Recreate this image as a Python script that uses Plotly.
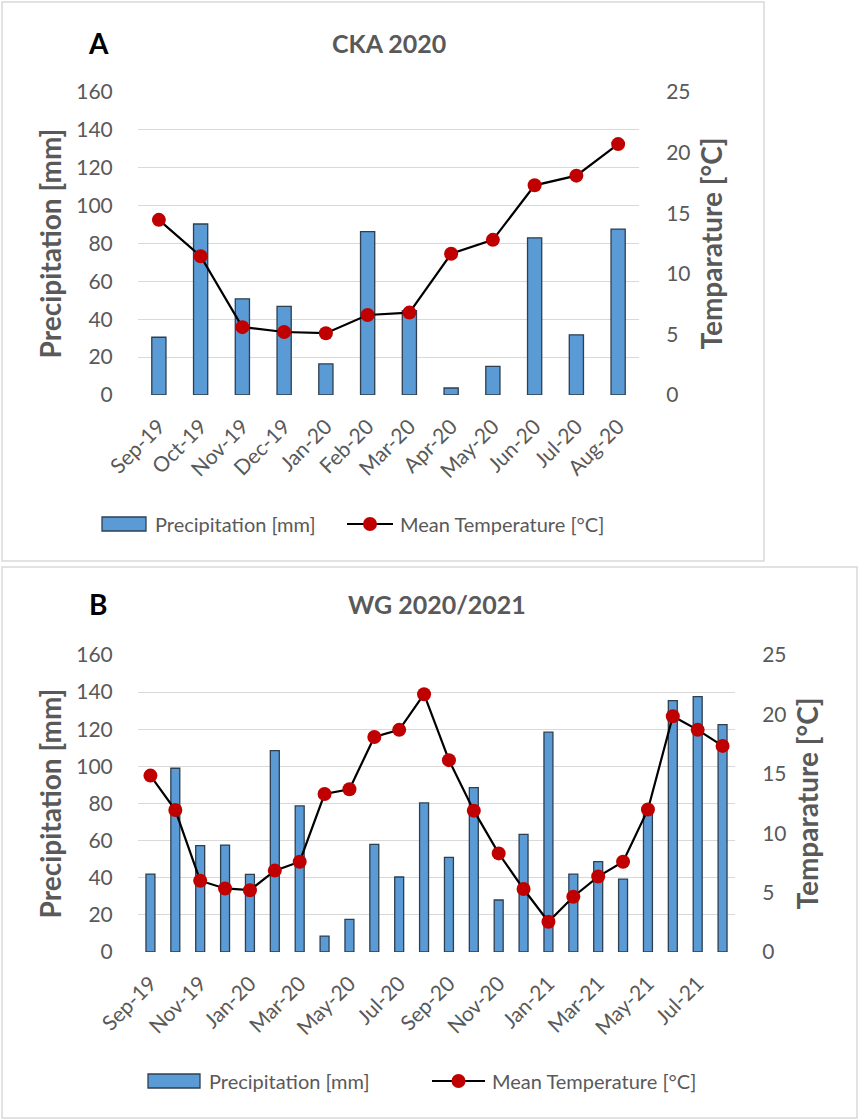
import plotly.graph_objects as go

# ---------------- data ----------------
months_a = ["Sep-19", "Oct-19", "Nov-19", "Dec-19", "Jan-20", "Feb-20",
            "Mar-20", "Apr-20", "May-20", "Jun-20", "Jul-20", "Aug-20"]
precip_a = [30.5, 90.3, 50.8, 46.8, 16.4, 86.3, 44.5, 3.7, 15.1, 83.0, 31.8, 87.6]
temp_a = [14.45, 11.45, 5.6, 5.2, 5.1, 6.6, 6.8, 11.65, 12.8, 17.3, 18.1, 20.7]

months_b = ["Sep-19", "Oct-19", "Nov-19", "Dec-19", "Jan-20", "Feb-20",
            "Mar-20", "Apr-20", "May-20", "Jun-20", "Jul-20", "Aug-20",
            "Sep-20", "Oct-20", "Nov-20", "Dec-20", "Jan-21", "Feb-21",
            "Mar-21", "Apr-21", "May-21", "Jun-21", "Jul-21", "Aug-21"]
precip_b = [42.0, 99.0, 57.3, 57.6, 41.8, 108.5, 78.7, 8.6, 17.6, 58.0, 40.4, 80.3,
            51.0, 88.5, 28.0, 63.4, 118.4, 41.9, 48.7, 39.3, 76.0, 135.4, 137.6, 122.5]
temp_b = [14.85, 11.95, 6.0, 5.35, 5.2, 6.85, 7.6, 13.3, 13.7, 18.1, 18.7, 21.7,
          16.15, 11.9, 8.3, 5.3, 2.55, 4.65, 6.35, 7.6, 12.0, 19.85, 18.7, 17.35]

precip_ticks = [0, 20, 40, 60, 80, 100, 120, 140, 160]
temp_ticks = [0, 5, 10, 15, 20, 25]

# ---------------- styling ----------------
W, H = 858, 1120
FONT = "Lato"
GREY = "#595959"
GRID = "#d9d9d9"
BAR_FILL = "#5b9bd5"
BAR_EDGE = "#2e3f50"
LINE = "#000000"
MARK = "#c00000"


def px_x(p):
    return p / W


def px_y(p):
    return 1 - p / H


fig = go.Figure()

panels = [
    dict(months=months_a, precip=precip_a, temp=temp_a, letter="A", title="CKA 2020",
         x0=138, x1=639, y0=92, y1=395, bar_w=0.34, ticks=months_a,
         frame=(2, 2, 764, 561), title_y=43,
         leg=dict(y=524, sw0=102, sw1=146, t1=153, l0=347, l1=393, t2=398),
         xa="x", ya="y", ya2="y2", xname="xaxis", yname="yaxis", y2name="yaxis2"),
    dict(months=months_b, precip=precip_b, temp=temp_b, letter="B", title="WG 2020/2021",
         x0=138, x1=735, y0=655, y1=952, bar_w=0.36, ticks=months_b[::2],
         frame=(2, 567, 857, 1118), title_y=604,
         leg=dict(y=1081, sw0=148, sw1=200, t1=207, l0=432, l1=485, t2=490),
         xa="x2", ya="y3", ya2="y4", xname="xaxis2", yname="yaxis3", y2name="yaxis4"),
]

shapes = []
annotations = []

for p in panels:
    fig.add_trace(go.Bar(
        x=p["months"], y=p["precip"], xaxis=p["xa"], yaxis=p["ya"],
        width=p["bar_w"], marker=dict(color=BAR_FILL, line=dict(color=BAR_EDGE, width=1.3)),
        name="Precipitation [mm]", showlegend=False,
    ))
    fig.add_trace(go.Scatter(
        x=p["months"], y=p["temp"], xaxis=p["xa"], yaxis=p["ya2"],
        mode="lines+markers", line=dict(color=LINE, width=2.2),
        marker=dict(color=MARK, size=14, line=dict(width=0)),
        name="Mean Temperature [°C]", showlegend=False, cliponaxis=False,
    ))

    xdom = [px_x(p["x0"]), px_x(p["x1"])]
    ydom = [px_y(p["y1"]), px_y(p["y0"])]
    xa_id = p["xa"]
    ya_id = p["ya"]
    n = len(p["months"])

    fig.layout[p["xname"]] = dict(
        domain=xdom, anchor=ya_id, type="category", automargin=False,
        categoryorder="array", categoryarray=p["months"], range=[-0.5, n - 0.5],
        tickmode="array", tickvals=p["ticks"], ticktext=p["ticks"],
        tickangle=-45, ticks="outside", ticklen=10, tickcolor="rgba(0,0,0,0)",
        tickfont=dict(family=FONT, size=21, color=GREY),
        showgrid=False, showline=False, zeroline=False,
    )
    fig.layout[p["yname"]] = dict(
        domain=ydom, anchor=xa_id, range=[0, 160], automargin=False,
        tickmode="array", tickvals=precip_ticks,
        ticks="outside", ticklen=20, tickcolor="rgba(0,0,0,0)",
        tickfont=dict(family=FONT, size=21, color=GREY),
        showgrid=True, gridcolor=GRID, gridwidth=1.3,
        zeroline=False, showline=False,
        title=dict(text="<b>Precipitation [mm]</b>", standoff=6,
                   font=dict(family=FONT, size=28, color=GREY)),
    )
    fig.layout[p["y2name"]] = dict(
        domain=ydom, anchor=xa_id, overlaying=ya_id, side="right", range=[0, 25],
        automargin=False,
        tickmode="array", tickvals=temp_ticks,
        ticks="outside", ticklen=22, tickcolor="rgba(0,0,0,0)",
        tickfont=dict(family=FONT, size=21, color=GREY),
        showgrid=False, zeroline=False, showline=False,
        title=dict(text="<b>Temparature [°C]</b>", standoff=12,
                   font=dict(family=FONT, size=28, color=GREY)),
    )

    # panel frame
    fx0, fy0, fx1, fy1 = p["frame"]
    shapes.append(dict(type="rect", xref="paper", yref="paper",
                       x0=px_x(fx0), x1=px_x(fx1), y0=px_y(fy1), y1=px_y(fy0),
                       line=dict(color=GRID, width=1.5), fillcolor="rgba(0,0,0,0)",
                       layer="below"))

    # panel letter and heading
    annotations.append(dict(text=f"<b>{p['letter']}</b>", xref="paper", yref="paper",
                            x=px_x(98), y=px_y(p["title_y"]), xanchor="center",
                            yanchor="middle", showarrow=False,
                            font=dict(family=FONT, size=28, color="#000000")))
    annotations.append(dict(text=f"<b>{p['title']}</b>", xref="paper", yref="paper",
                            x=(xdom[0] + xdom[1]) / 2, y=px_y(p["title_y"]),
                            xanchor="center", yanchor="middle", showarrow=False,
                            font=dict(family=FONT, size=25, color=GREY)))

    # legend row
    lg = p["leg"]
    ly = lg["y"]
    shapes.append(dict(type="rect", xref="paper", yref="paper",
                       x0=px_x(lg["sw0"]), x1=px_x(lg["sw1"]),
                       y0=px_y(ly + 7), y1=px_y(ly - 7),
                       fillcolor=BAR_FILL, line=dict(color=BAR_EDGE, width=1.3)))
    annotations.append(dict(text="Precipitation [mm]", xref="paper", yref="paper",
                            x=px_x(lg["t1"]), y=px_y(ly), xanchor="left",
                            yanchor="middle", showarrow=False,
                            font=dict(family=FONT, size=20, color=GREY)))
    shapes.append(dict(type="line", xref="paper", yref="paper",
                       x0=px_x(lg["l0"]), x1=px_x(lg["l1"]),
                       y0=px_y(ly), y1=px_y(ly), line=dict(color=LINE, width=2.2)))
    mid = (lg["l0"] + lg["l1"]) / 2
    shapes.append(dict(type="circle", xref="paper", yref="paper",
                       x0=px_x(mid - 7), x1=px_x(mid + 7),
                       y0=px_y(ly + 7), y1=px_y(ly - 7),
                       fillcolor=MARK, line=dict(width=0)))
    annotations.append(dict(text="Mean Temperature [°C]", xref="paper", yref="paper",
                            x=px_x(lg["t2"]), y=px_y(ly), xanchor="left",
                            yanchor="middle", showarrow=False,
                            font=dict(family=FONT, size=20, color=GREY)))

fig.update_layout(
    width=W, height=H,
    margin=dict(l=0, r=0, t=0, b=0),
    paper_bgcolor="white", plot_bgcolor="white",
    bargap=0.6, showlegend=False,
    shapes=shapes, annotations=annotations,
    font=dict(family=FONT, color=GREY),
)

fig.write_html("out.html")
